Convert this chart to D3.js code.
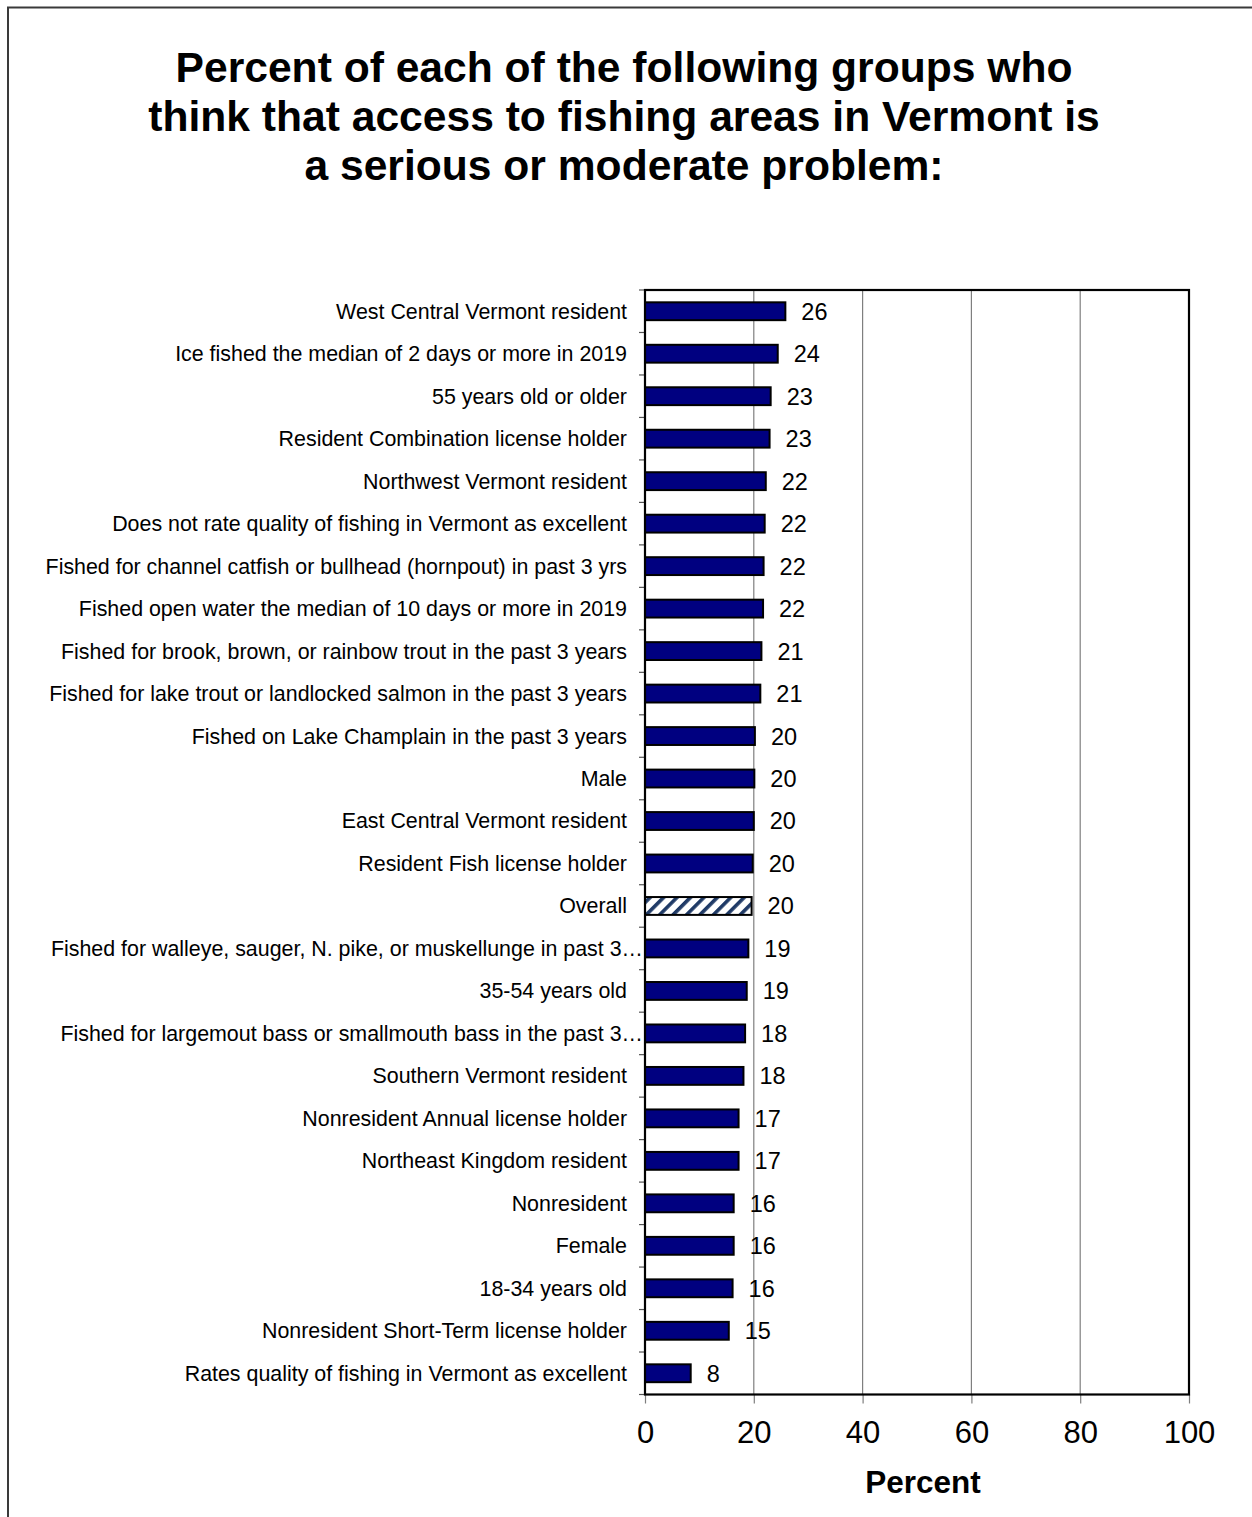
<!DOCTYPE html>
<html>
<head>
<meta charset="utf-8">
<script src="https://cdn.jsdelivr.net/npm/d3@7"></script>
<style>
  html, body { margin: 0; padding: 0; background: #fff; }
  svg { display: block; font-family: Arial, "Liberation Sans", sans-serif; }
</style>
</head>
<body>
<svg id="chart" width="1252" height="1517"></svg>
<script>
// Survey groups, top to bottom
const categories = [
  "West Central Vermont resident",
  "Ice fished the median of 2 days or more in 2019",
  "55 years old or older",
  "Resident Combination license holder",
  "Northwest Vermont resident",
  "Does not rate quality of fishing in Vermont as excellent",
  "Fished for channel catfish or bullhead (hornpout) in past 3 yrs",
  "Fished open water the median of 10 days or more in 2019",
  "Fished for brook, brown, or rainbow trout in the past 3 years",
  "Fished for lake trout or landlocked salmon in the past 3 years",
  "Fished on Lake Champlain in the past 3 years",
  "Male",
  "East Central Vermont resident",
  "Resident Fish license holder",
  "Overall",
  "Fished for walleye, sauger, N. pike, or muskellunge in past 3\u2026",
  "35-54 years old",
  "Fished for largemout bass or smallmouth bass in the past 3\u2026",
  "Southern Vermont resident",
  "Nonresident Annual license holder",
  "Northeast Kingdom resident",
  "Nonresident",
  "Female",
  "18-34 years old",
  "Nonresident Short-Term license holder",
  "Rates quality of fishing in Vermont as excellent"
];

// Percent who rate access as a serious or moderate problem
const percents = [
  25.8, 24.4, 23.1, 22.9, 22.2, 22.0, 21.8, 21.7, 21.4, 21.2,
  20.2, 20.1, 20.0, 19.8, 19.6, 19.0, 18.7, 18.4, 18.1, 17.2,
  17.2, 16.3, 16.3, 16.1, 15.4, 8.4
];

const xTicks = [0, 20, 40, 60, 80, 100];
const highlighted = "Overall";

const titleLines = [
  "Percent of each of the following groups who",
  "think that access to fishing areas in Vermont is",
  "a serious or moderate problem:"
];

(function draw() {
  const svg = d3.select("#chart");
  const W = 1252;

  // Outer frame
  svg.append("rect")
    .attr("x", 8).attr("y", 7.5)
    .attr("width", W + 20).attr("height", 1540)
    .attr("fill", "none").attr("stroke", "#3a3a3a").attr("stroke-width", 2);

  // Hatched fill for the overall bar
  const defs = svg.append("defs");
  const pat = defs.append("pattern")
    .attr("id", "hatch")
    .attr("patternUnits", "userSpaceOnUse")
    .attr("width", 9.5).attr("height", 9.5)
    .attr("patternTransform", "rotate(45)");
  pat.append("rect").attr("width", 9.5).attr("height", 9.5).attr("fill", "#fff");
  pat.append("rect").attr("x", 0).attr("y", 0).attr("width", 3.6).attr("height", 9.5).attr("fill", "#1f3a66");

  // Title
  svg.append("text")
    .attr("x", 624).attr("y", 82)
    .attr("text-anchor", "middle")
    .attr("font-size", 42.6).attr("font-weight", "bold")
    .selectAll("tspan").data(titleLines).join("tspan")
    .attr("x", 624).attr("dy", (d, i) => i === 0 ? 0 : 49)
    .text(d => d);

  const pLeft = 645, pRight = 1189, pTop = 290, pBottom = 1394.5;

  const x = d3.scaleLinear().domain([0, 100]).range([pLeft, pRight]);
  const y = d3.scaleBand().domain(categories).range([pTop, pBottom]).paddingInner(0.58).paddingOuter(0.29);

  // Vertical gridlines
  svg.append("g").selectAll("line")
    .data(xTicks.filter(t => t > 0 && t < 100)).join("line")
    .attr("x1", d => x(d)).attr("x2", d => x(d))
    .attr("y1", pTop).attr("y2", pBottom)
    .attr("stroke", "#7f7f7f").attr("stroke-width", 1.2);

  // Bottom axis with ticks and labels
  const xAxis = d3.axisBottom(x).tickValues(xTicks).tickSize(9).tickPadding(17).tickFormat(d3.format("d"));
  const gx = svg.append("g").attr("transform", `translate(0,${pBottom})`).call(xAxis);
  gx.select(".domain").remove();
  gx.selectAll(".tick line").attr("stroke", "#7f7f7f").attr("stroke-width", 1.2);
  gx.selectAll(".tick text")
    .attr("font-size", 31).attr("fill", "#000")
    .attr("font-family", "Arial, 'Liberation Sans', sans-serif");

  // Category ticks on the left axis, at band boundaries
  const step = y.step();
  const boundaries = d3.range(categories.length + 1).map(i => pTop + i * step);
  svg.append("g").selectAll("line")
    .data(boundaries).join("line")
    .attr("x1", pLeft - 6).attr("x2", pLeft)
    .attr("y1", d => d).attr("y2", d => d)
    .attr("stroke", "#555").attr("stroke-width", 1.2);

  // Category labels (shortened labels run up to the axis)
  svg.append("g").selectAll("text")
    .data(categories).join("text")
    .attr("x", d => d.endsWith("\u2026") ? pLeft - 2 : pLeft - 18)
    .attr("y", d => y(d) + y.bandwidth() / 2)
    .attr("dy", "0.35em")
    .attr("text-anchor", "end")
    .attr("font-size", 21.4)
    .attr("fill", "#000")
    .text(d => d);

  // Bars
  const rows = categories.map((c, i) => ({ c, v: percents[i] }));
  svg.append("g").selectAll("rect")
    .data(rows).join("rect")
    .attr("x", x(0))
    .attr("y", d => y(d.c))
    .attr("width", d => x(d.v) - x(0))
    .attr("height", y.bandwidth())
    .attr("fill", d => d.c === highlighted ? "url(#hatch)" : "#000080")
    .attr("stroke", "#000").attr("stroke-width", 2);

  // Value labels
  svg.append("g").selectAll("text")
    .data(rows).join("text")
    .attr("x", d => x(d.v) + 16)
    .attr("y", d => y(d.c) + y.bandwidth() / 2)
    .attr("dy", "0.36em")
    .attr("font-size", 23.5)
    .attr("fill", "#000")
    .text(d => Math.round(d.v));

  // Plot frame: left axis, bottom axis, top and right borders
  svg.append("rect")
    .attr("x", pLeft).attr("y", pTop)
    .attr("width", pRight - pLeft).attr("height", pBottom - pTop)
    .attr("fill", "none").attr("stroke", "#000").attr("stroke-width", 2.2);

  // Axis title
  svg.append("text")
    .attr("x", (pLeft + pRight) / 2 + 6).attr("y", 1493)
    .attr("text-anchor", "middle")
    .attr("font-size", 31.5).attr("font-weight", "bold")
    .text("Percent");
})();
</script>
</body>
</html>
